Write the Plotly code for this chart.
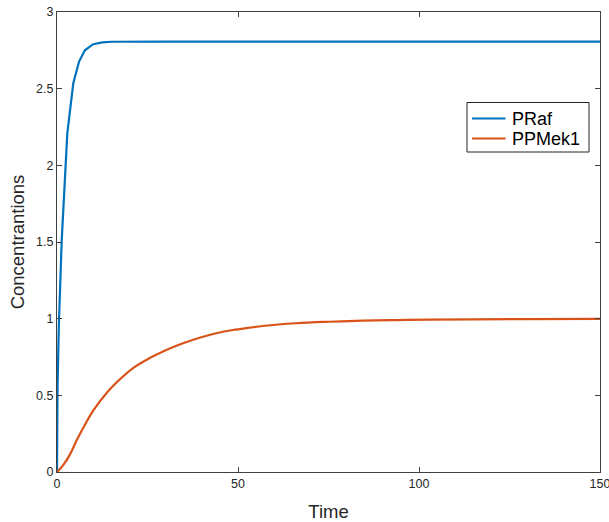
import plotly.graph_objects as go

# PRaf time course (fast activation to a plateau)
praf_t = [0, 0.15, 0.5, 1.3, 2.85, 4.5, 6.1, 7.7, 10, 12.5, 15, 20, 30, 50, 75, 100, 125, 150]
praf_y = [0, 0.55, 0.95, 1.51, 2.21, 2.535, 2.677, 2.75, 2.79, 2.802, 2.806, 2.807, 2.807, 2.807, 2.807, 2.807, 2.807, 2.807]

# PPMek1 time course (slower sigmoidal rise)
mek_t = [0, 1.7, 3.6, 5.4, 7.3, 10, 13.7, 16.5, 21, 25.6, 30.2, 34.8, 39.4, 44, 48.6, 53.2,
         56.8, 66, 75.2, 84.4, 93.6, 102.8, 115, 130, 150]
mek_y = [0, 0.045, 0.115, 0.205, 0.29, 0.40, 0.515, 0.585, 0.678, 0.743, 0.796, 0.84, 0.876,
         0.905, 0.926, 0.941, 0.952, 0.97, 0.98, 0.987, 0.991, 0.994, 0.996, 0.997, 0.998]

x_ticks = [0, 50, 100, 150]
y_ticks = [0, 0.5, 1, 1.5, 2, 2.5, 3]
y_tick_text = ["0", "0.5", "1", "1.5", "2", "2.5", "3"]

series = [
    ("PRaf", praf_t, praf_y, "#0072BD", "linear"),
    ("PPMek1", mek_t, mek_y, "#D95319", "spline"),
]

W, H = 609, 522
ML, MR, MT, MB = 57, 9, 12, 50
PW, PH = W - ML - MR, H - MT - MB


def px_x(p):
    return (p - ML) / PW


def px_y(p):
    return (H - MB - p) / PH


fig = go.Figure()
for name, t, y, color, shape in series:
    fig.add_trace(go.Scatter(x=t, y=y, mode="lines", name=name, showlegend=False,
                             line=dict(color=color, width=2.2, shape=shape, smoothing=1.0)))

# MATLAB-style boxed legend drawn with shapes and text
shapes = [dict(type="rect", xref="paper", yref="paper",
               x0=px_x(467), x1=px_x(589), y0=px_y(152), y1=px_y(102.5),
               line=dict(color="#262626", width=1), fillcolor="white", layer="above")]
annotations = []
for i, (name, _, _, color, _) in enumerate(series):
    row_y = px_y(118.5 + 20 * i)
    shapes.append(dict(type="line", xref="paper", yref="paper",
                       x0=px_x(472), x1=px_x(505.5), y0=row_y, y1=row_y,
                       line=dict(color=color, width=2.2), layer="above"))
    annotations.append(dict(xref="paper", yref="paper", x=px_x(510), y=row_y,
                            text=name, showarrow=False, xanchor="left", yanchor="middle",
                            font=dict(size=18, color="#000000")))

axis_common = dict(
    showline=True, linecolor="#404040", linewidth=1, mirror="ticks",
    ticks="inside", ticklen=5, tickcolor="#404040", tickwidth=1,
    showgrid=False, zeroline=False, automargin=False, ticklabeloverflow="allow",
    tickfont=dict(family="Liberation Sans, Arial, sans-serif", size=12.5, color="#262626"),
)

fig.update_layout(
    width=W, height=H,
    margin=dict(l=ML, r=MR, t=MT, b=MB),
    paper_bgcolor="white", plot_bgcolor="white",
    font=dict(family="Liberation Sans, Arial, sans-serif", color="#262626"),
    xaxis=dict(range=[0, 150], tickvals=x_ticks, ticktext=[str(v) for v in x_ticks],
               title=dict(text="Time", font=dict(size=18.5), standoff=15), **axis_common),
    yaxis=dict(range=[0, 3], tickvals=y_ticks, ticktext=y_tick_text,
               title=dict(text="Concentrantions", font=dict(size=18.5), standoff=6), **axis_common),
    shapes=shapes,
    annotations=annotations,
    showlegend=False,
)

fig.write_html("out.html")
